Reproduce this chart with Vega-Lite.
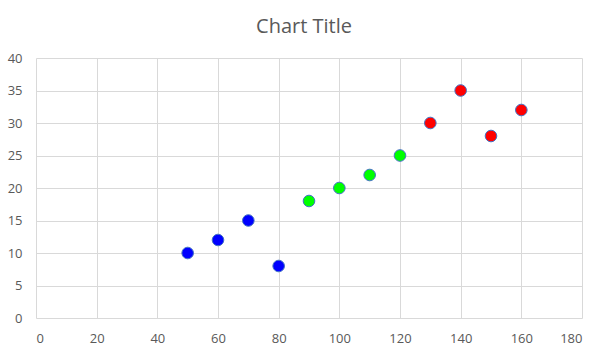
{
  "$schema": "https://vega.github.io/schema/vega-lite/v6.json",
  "autosize": {"type": "none"},
  "width": 546,
  "height": 260,
  "padding": {"left": 36, "top": 58, "right": 28, "bottom": 37},
  "background": "white",
  "title": {
    "text": "Chart Title",
    "font": "Open Sans",
    "fontSize": 20,
    "fontWeight": "normal",
    "color": "#595959",
    "anchor": "middle",
    "offset": 15,
    "dx": -5
  },
  "config": {"view": {"stroke": null}},
  "data": {
    "values": [
      {"x": 50, "y": 10, "g": "a"},
      {"x": 60, "y": 12, "g": "a"},
      {"x": 70, "y": 15, "g": "a"},
      {"x": 80, "y": 8, "g": "a"},
      {"x": 90, "y": 18, "g": "b"},
      {"x": 100, "y": 20, "g": "b"},
      {"x": 110, "y": 22, "g": "b"},
      {"x": 120, "y": 25, "g": "b"},
      {"x": 130, "y": 30, "g": "c"},
      {"x": 140, "y": 35, "g": "c"},
      {"x": 150, "y": 28, "g": "c"},
      {"x": 160, "y": 32, "g": "c"}
    ]
  },
  "mark": {"type": "point", "filled": true, "size": 135, "opacity": 1, "stroke": "#4472C4", "strokeWidth": 1},
  "encoding": {
    "x": {
      "field": "x", "type": "quantitative",
      "scale": {"domain": [0, 180], "nice": false},
      "axis": {"values": [0,20,40,60,80,100,120,140,160,180], "title": null, "grid": true, "gridColor": "#d9d9d9", "domain": false, "ticks": false, "labelFont": "Open Sans", "labelFontSize": 13, "labelColor": "#595959", "labelPadding": 14}
    },
    "y": {
      "field": "y", "type": "quantitative",
      "scale": {"domain": [0, 40], "nice": false},
      "axis": {"values": [0,5,10,15,20,25,30,35,40], "title": null, "grid": true, "gridColor": "#d9d9d9", "domain": false, "ticks": false, "labelFont": "Open Sans", "labelFontSize": 13, "labelColor": "#595959", "labelPadding": 14}
    },
    "fill": {
      "field": "g", "type": "nominal",
      "scale": {"domain": ["a","b","c"], "range": ["#0000ff", "#00ff00", "#ff0000"]},
      "legend": null
    }
  }
}
